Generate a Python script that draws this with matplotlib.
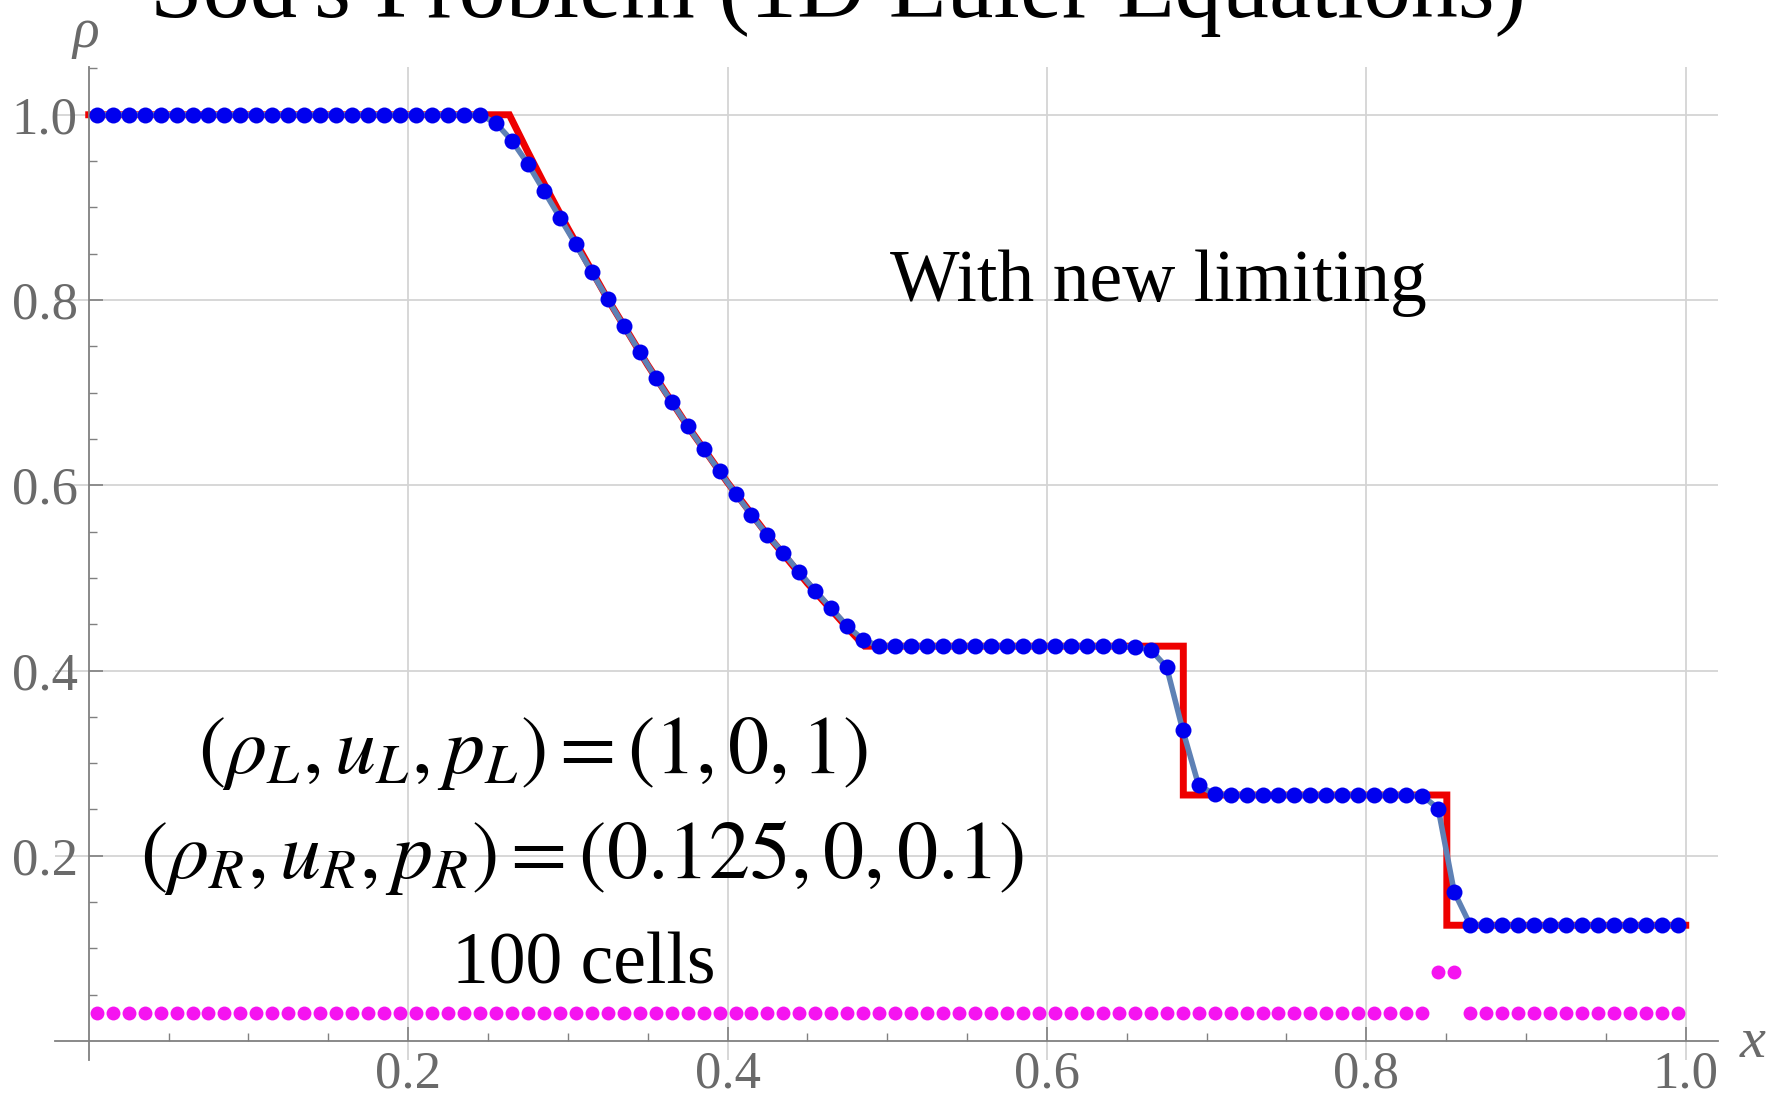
import matplotlib
matplotlib.use("Agg")
import matplotlib.pyplot as plt
from matplotlib.ticker import FixedLocator

# cell centres (100 cells on [0, 1])
x_cells = [0.005 + 0.01 * i for i in range(100)]

# numerical density (blue dots)
rho_num = ([1.0] * 25
           + [0.991, 0.972, 0.947, 0.918, 0.889, 0.860, 0.830, 0.801, 0.772,
              0.744, 0.716, 0.690, 0.664, 0.639, 0.615, 0.591, 0.568, 0.546,
              0.527, 0.506, 0.486, 0.467, 0.448, 0.433, 0.4265]
           + [0.4263] * 15
           + [0.4255, 0.4225, 0.4035, 0.336, 0.276, 0.2665]
           + [0.2656] * 12
           + [0.2650, 0.251, 0.161, 0.1255]
           + [0.125] * 13)

# troubled cell indicator (magenta dots)
indicator = [0.03] * 84 + [0.075, 0.075] + [0.03] * 14

# exact solution (red)
x_exact = [0.0, 0.2634, 0.275, 0.285, 0.30, 0.325, 0.35, 0.375, 0.40, 0.425,
           0.45, 0.475, 0.4859, 0.6854, 0.6854, 0.8504, 0.8504, 1.0]
rho_exact = [1.0, 1.0, 0.9597, 0.9261, 0.8775, 0.8010, 0.7299, 0.6640, 0.6030,
             0.5464, 0.4943, 0.4462, 0.4263, 0.4263, 0.2656, 0.2656, 0.125, 0.125]

x_major = [0.2, 0.4, 0.6, 0.8, 1.0]
y_major = [0.2, 0.4, 0.6, 0.8, 1.0]
x_minor = [0.05, 0.1, 0.15, 0.25, 0.3, 0.35, 0.45, 0.5, 0.55, 0.65, 0.7, 0.75,
           0.85, 0.9, 0.95]
y_minor = [0.05, 0.1, 0.15, 0.25, 0.3, 0.35, 0.45, 0.5, 0.55, 0.65, 0.7, 0.75,
           0.85, 0.9, 0.95, 1.05]

plt.rcParams['mathtext.fontset'] = 'stix'
serif = ['Liberation Serif', 'DejaVu Serif']
gray = '#6a6a6a'

W, H = 1783, 1100
fig = plt.figure(figsize=(W / 100, H / 100), dpi=100)
# axes box in pixels: x from 54.6 to 1718, y from 66.7 to 1060
ax = fig.add_axes([54.6 / W, 1 - 1060 / H, (1718 - 54.6) / W, (1060 - 66.7) / H])
ax.set_xlim(-0.02136, 1.0202)
ax.set_ylim(-0.0205, 1.0519)

ax.plot(x_exact, rho_exact, color='#ee0000', lw=5, solid_joinstyle='miter', zorder=2)
ax.plot(x_cells, rho_num, color='#5e81b5', lw=4, zorder=3)
ax.plot(x_cells, rho_num, 'o', color='#0000ee', ms=11.5, mec='none', zorder=4)
ax.plot(x_cells, indicator, 'o', color='#f514f0', ms=10, mec='none', zorder=4)

for s in ['top', 'right']:
    ax.spines[s].set_visible(False)
for s in ['left', 'bottom']:
    ax.spines[s].set_position(('data', 0))
    ax.spines[s].set_color('#808080')
    ax.spines[s].set_linewidth(1.3)

ax.xaxis.set_major_locator(FixedLocator(x_major))
ax.yaxis.set_major_locator(FixedLocator(y_major))
ax.xaxis.set_minor_locator(FixedLocator(x_minor))
ax.yaxis.set_minor_locator(FixedLocator(y_minor))
ax.set_xticklabels(['0.2', '0.4', '0.6', '0.8', '1.0'])
ax.set_yticklabels(['0.2', '0.4', '0.6', '0.8', '1.0'])
ax.tick_params(which='major', direction='in', length=10, width=1.2, color='#808080',
               labelsize=38, labelcolor=gray)
ax.tick_params(which='minor', direction='in', length=6, width=1.0, color='#808080')
ax.tick_params(axis='x', which='major', pad=7)
ax.tick_params(axis='y', which='major', pad=8)
for lab in ax.get_xticklabels() + ax.get_yticklabels():
    lab.set_family(serif)
ax.grid(True, which='major', color='#d4d4d4', lw=1.3)
ax.set_axisbelow(True)

fig.text(86 / W, 1 - 33 / H, 'ρ', family=serif, style='italic', color=gray,
         fontsize=40, ha='center', va='center')
fig.text(1753 / W, 1 - 1043 / H, 'x', family=serif, style='italic', color=gray,
         fontsize=42, ha='center', va='center')

fig.text(150 / W, 1 - 17 / H, "Sod's Problem (1D Euler Equations)", family=serif,
         fontsize=68, ha='left', va='baseline')
fig.text(890 / W, 1 - 301 / H, 'With new limiting', family=serif, fontsize=53,
         ha='left', va='baseline')
fig.text(533 / W, 1 - 773 / H, r'$(\rho_L, u_L, p_L) = (1, 0, 1)$', fontsize=59,
         ha='center', va='baseline')
fig.text(582 / W, 1 - 878 / H, r'$(\rho_R, u_R, p_R) = (0.125, 0, 0.1)$', fontsize=59,
         ha='center', va='baseline')
fig.text(584 / W, 1 - 983 / H, '100 cells', family=serif, fontsize=53,
         ha='center', va='baseline')

fig.savefig('out.png', dpi=100)
